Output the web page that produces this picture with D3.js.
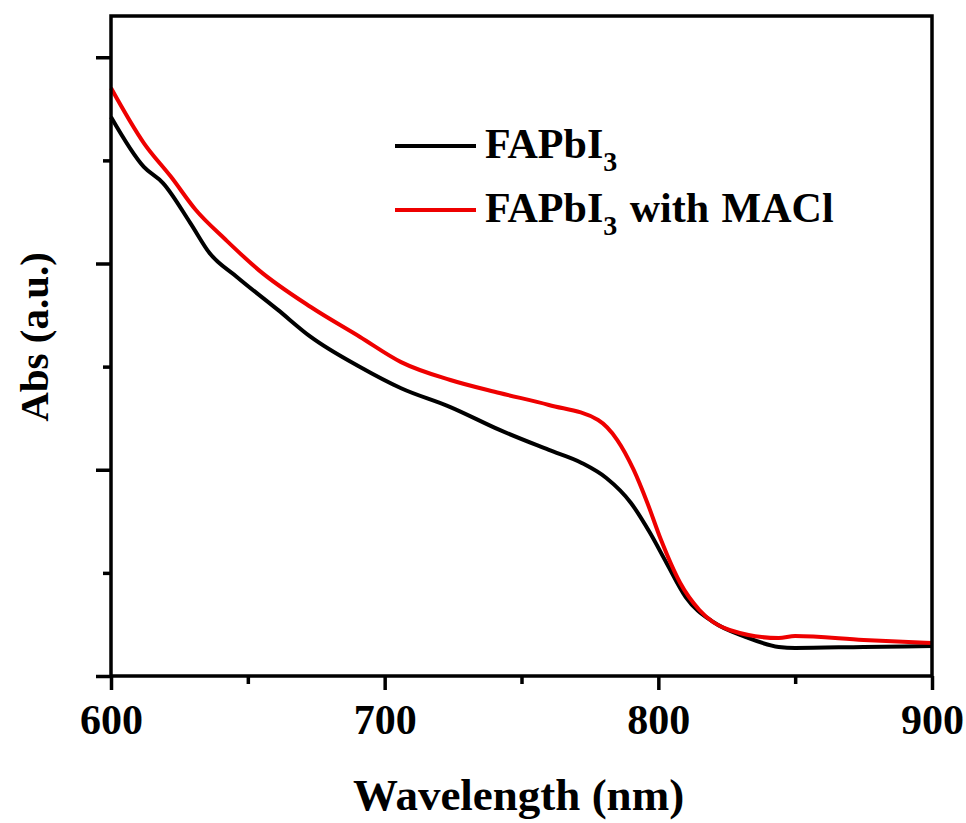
<!DOCTYPE html>
<html><head><meta charset="utf-8">
<script src="https://cdn.jsdelivr.net/npm/d3@7"></script>
<style>body{margin:0;background:#fff}svg{display:block}</style>
</head><body>
<svg id="c" width="966" height="823"></svg>
<script>
// wavelength (nm) and absorbance (a.u.)
const blackNm  = [600, 612, 619, 629, 636, 646, 661, 673, 691, 706, 724, 742, 760, 772, 781, 790, 797, 803, 810, 820, 832, 844, 850, 875, 900];
const blackAbs = [2.71, 2.468, 2.39, 2.196, 2.051, 1.935, 1.775, 1.644, 1.498, 1.395, 1.304, 1.193, 1.096, 1.033, 0.96, 0.839, 0.693, 0.548, 0.383, 0.262, 0.189, 0.141, 0.136, 0.141, 0.145];
const redNm    = [600, 612, 622, 631, 642, 654, 673, 691, 706, 724, 742, 760, 778, 785, 791, 796, 801, 808, 815, 826, 844, 850, 875, 900];
const redAbs   = [2.851, 2.584, 2.419, 2.259, 2.114, 1.968, 1.789, 1.644, 1.522, 1.435, 1.372, 1.314, 1.241, 1.144, 0.999, 0.839, 0.659, 0.451, 0.32, 0.223, 0.184, 0.194, 0.175, 0.16];
const xTicks = [600, 700, 800, 900];
const xMinor = [650, 750, 850];
const yTicks = [0, 1, 2, 3];
const yMinor = [0.5, 1.5, 2.5];
const seriesNames = ["FAPbI", "FAPbI"];
const seriesSuffix = ["", " with MACl"];
const seriesColors = ["#000000", "#ee0000"];

const svg = d3.select("#c");
const L = 111, R = 932, T = 16, B = 676;
const x = d3.scaleLinear().domain([600, 900]).range([L, R]);
const y = d3.scaleLinear().domain([0, 3.2]).range([B, T]);
const font = "'Liberation Serif','Times New Roman',serif";

const line = d3.line().x(d => x(d[0])).y(d => y(d[1])).curve(d3.curveMonotoneX);
const series = [
  d3.zip(blackNm, blackAbs),
  d3.zip(redNm, redAbs)
];
series.forEach((s, i) => {
  svg.append("path").datum(s).attr("d", line)
    .attr("fill", "none").attr("stroke", seriesColors[i])
    .attr("stroke-width", 4).attr("stroke-linejoin", "round");
});

// frame
svg.append("rect").attr("x", L).attr("y", T).attr("width", R - L).attr("height", B - T)
  .attr("fill", "none").attr("stroke", "#000").attr("stroke-width", 3.5);

// x axis
const xa = svg.append("g").attr("transform", `translate(0,${B})`)
  .call(d3.axisBottom(x).tickValues(xTicks).tickSize(14).tickPadding(14).tickFormat(d3.format("d")));
xa.select(".domain").remove();
xa.selectAll(".tick line").attr("stroke-width", 3.5);
xa.selectAll(".tick text").attr("font-family", font).attr("font-weight", "bold").attr("font-size", 42).attr("fill", "#000");
const xm = svg.append("g").attr("transform", `translate(0,${B})`)
  .call(d3.axisBottom(x).tickValues(xMinor).tickSize(8).tickFormat(""));
xm.select(".domain").remove();
xm.selectAll(".tick line").attr("stroke-width", 3.5);

// y axis
const ya = svg.append("g").attr("transform", `translate(${L},0)`)
  .call(d3.axisLeft(y).tickValues(yTicks).tickSize(15).tickFormat(""));
ya.select(".domain").remove();
ya.selectAll(".tick line").attr("stroke-width", 3.5);
const ym = svg.append("g").attr("transform", `translate(${L},0)`)
  .call(d3.axisLeft(y).tickValues(yMinor).tickSize(8).tickFormat(""));
ym.select(".domain").remove();
ym.selectAll(".tick line").attr("stroke-width", 3.5);

// axis titles
svg.append("text").attr("x", (L + R) / 2 - 3).attr("y", 810).attr("text-anchor", "middle")
  .attr("font-family", font).attr("font-weight", "bold").attr("font-size", 45).text("Wavelength (nm)");
svg.append("text").attr("transform", "translate(48,337) rotate(-90)").attr("text-anchor", "middle")
  .attr("font-family", font).attr("font-weight", "bold").attr("font-size", 41).text("Abs (a.u.)");

// legend
const lg = svg.append("g");
[0, 1].forEach(i => {
  const yy = 146 + i * 64;
  lg.append("line").attr("x1", 395).attr("x2", 476).attr("y1", yy).attr("y2", yy)
    .attr("stroke", seriesColors[i]).attr("stroke-width", 4);
  const t = lg.append("text").attr("x", 485).attr("y", yy + 12)
    .attr("font-family", font).attr("font-weight", "bold").attr("font-size", 42);
  t.append("tspan").text(seriesNames[i]);
  t.append("tspan").attr("font-size", 28).attr("dy", 13).text("3");
  t.append("tspan").attr("dy", -13).attr("word-spacing", 2).text(seriesSuffix[i]);
});
</script>
</body></html>
